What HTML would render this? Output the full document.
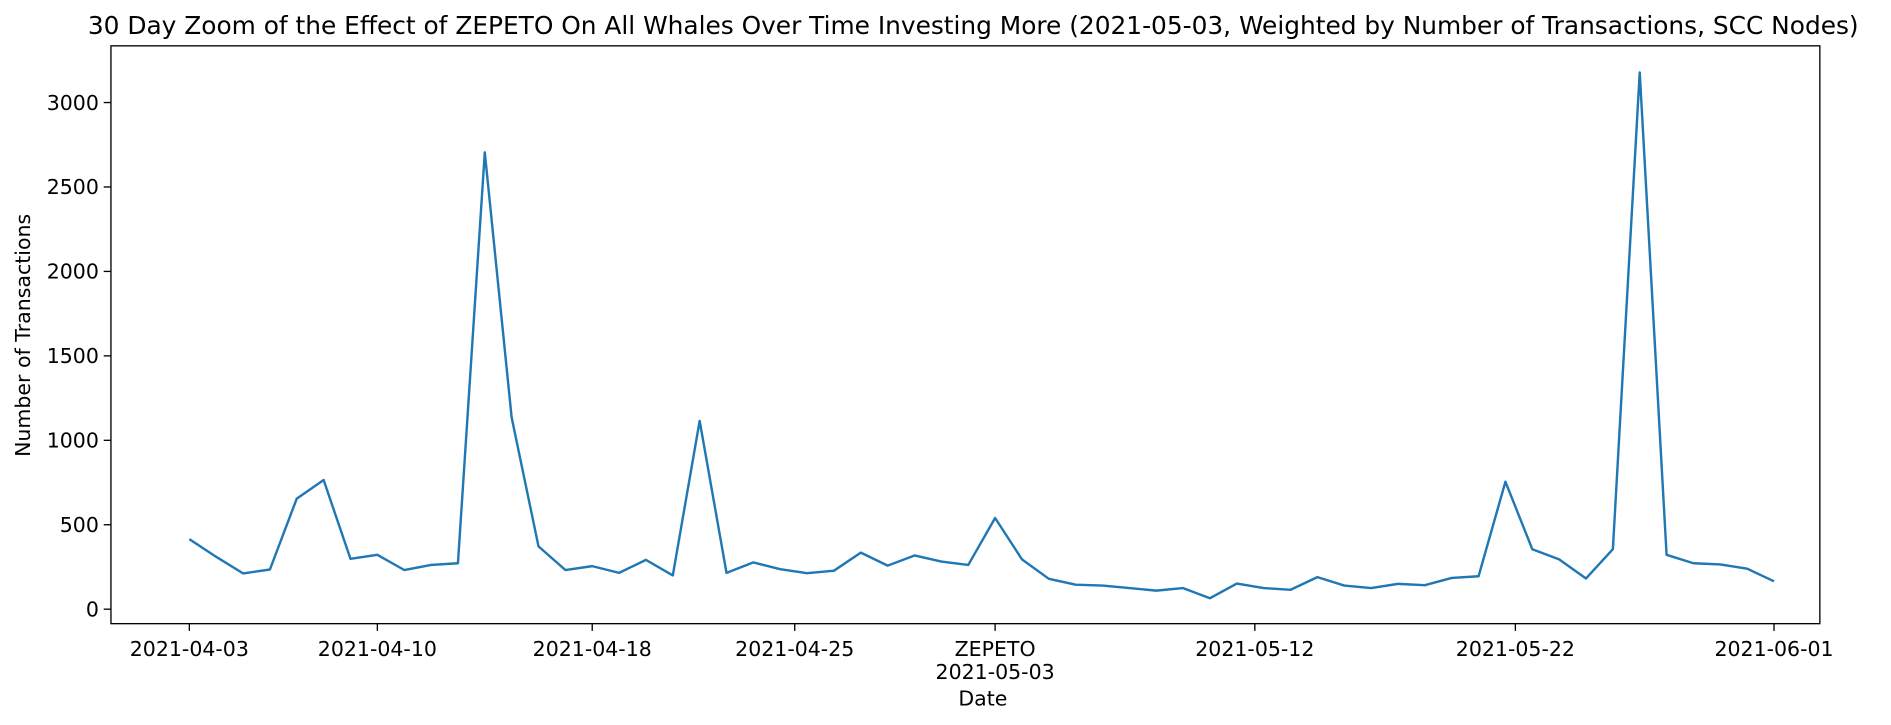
<!DOCTYPE html>
<html><head><meta charset="utf-8"><style>
body{margin:0;background:#fff;}
svg{display:block;}
text{font-family:"DejaVu Sans","Liberation Sans",sans-serif;fill:#000;}
</style></head><body>
<svg id="chart" width="1891" height="725" viewBox="0 0 1568 601" preserveAspectRatio="none" xmlns="http://www.w3.org/2000/svg"></svg>
<script>
const startDate = "2021-04-03";
const values = [415,310,212,235,655,765,298,322,232,262,272,2705,1135,372,232,255,215,292,200,1115,215,277,237,213,228,335,258,318,282,262,540,295,180,145,140,125,110,125,65,152,125,115,190,140,125,150,142,185,195,755,355,295,182,355,3178,322,272,265,240,165];
const xTickDays = [0,7,15,22.54,30,39.67,49.37,59];
const xTickLabels = ["2021-04-03","2021-04-10","2021-04-18","2021-04-25","2021-05-03","2021-05-12","2021-05-22","2021-06-01"];
const yTicks = [0,500,1000,1500,2000,2500,3000];

const NS="http://www.w3.org/2000/svg";
const svg=document.getElementById('chart');
const L=92,R=1509,T=38,B=517;
const x=d=>157+d*(1471-157)/59;
const y=v=>505-v*(505-85)/3000;
function mk(tag,attrs,parent){const e=document.createElementNS(NS,tag);for(const k in attrs)e.setAttribute(k,attrs[k]);(parent||svg).appendChild(e);return e;}

const title=mk('text',{x:807,y:28,'text-anchor':'middle','font-size':20.6});


title.textContent="30 Day Zoom of the Effect of ZEPETO On All Whales Over Time Investing More (2021-05-03, Weighted by Number of Transactions, SCC Nodes)";

const frame=mk('rect',{x:L,y:T,width:R-L,height:B-T,fill:'none',stroke:'#000','stroke-width':1.1});



yTicks.forEach(v=>{
  const g=mk('g',{});
  
  
  mk('line',{x1:L-6,x2:L,y1:y(v),y2:y(v),stroke:'#000','stroke-width':1.1},g);
  const t=mk('text',{x:L-10,y:y(v)+6,'text-anchor':'end','font-size':17},g);t.textContent=v;
});
xTickDays.forEach((d,i)=>{
  const g=mk('g',{});
  
  
  mk('line',{x1:x(d),x2:x(d),y1:B,y2:B+6,stroke:'#000','stroke-width':1.1},g);
  const t=mk('text',{x:x(d),y:B+27,'text-anchor':'middle','font-size':17},g);
  t.textContent=xTickLabels[i];
  if(i===4){t.textContent="ZEPETO";const t2=mk('text',{x:x(d),y:B+46,'text-anchor':'middle','font-size':17},g);t2.textContent=xTickLabels[i];}
});

const xl=mk('text',{x:815,y:585,'text-anchor':'middle','font-size':17});


xl.textContent="Date";
const yl=mk('text',{x:0,y:0,'text-anchor':'middle','font-size':17,transform:'translate(25,278) rotate(-90)'});


yl.textContent="Number of Transactions";

const line=mk('polyline',{points:values.map((v,i)=>x(i)+','+y(v)).join(' '),fill:'none',stroke:'#1f77b4','stroke-width':2,'stroke-linejoin':'round'});


</script>
</body></html>
